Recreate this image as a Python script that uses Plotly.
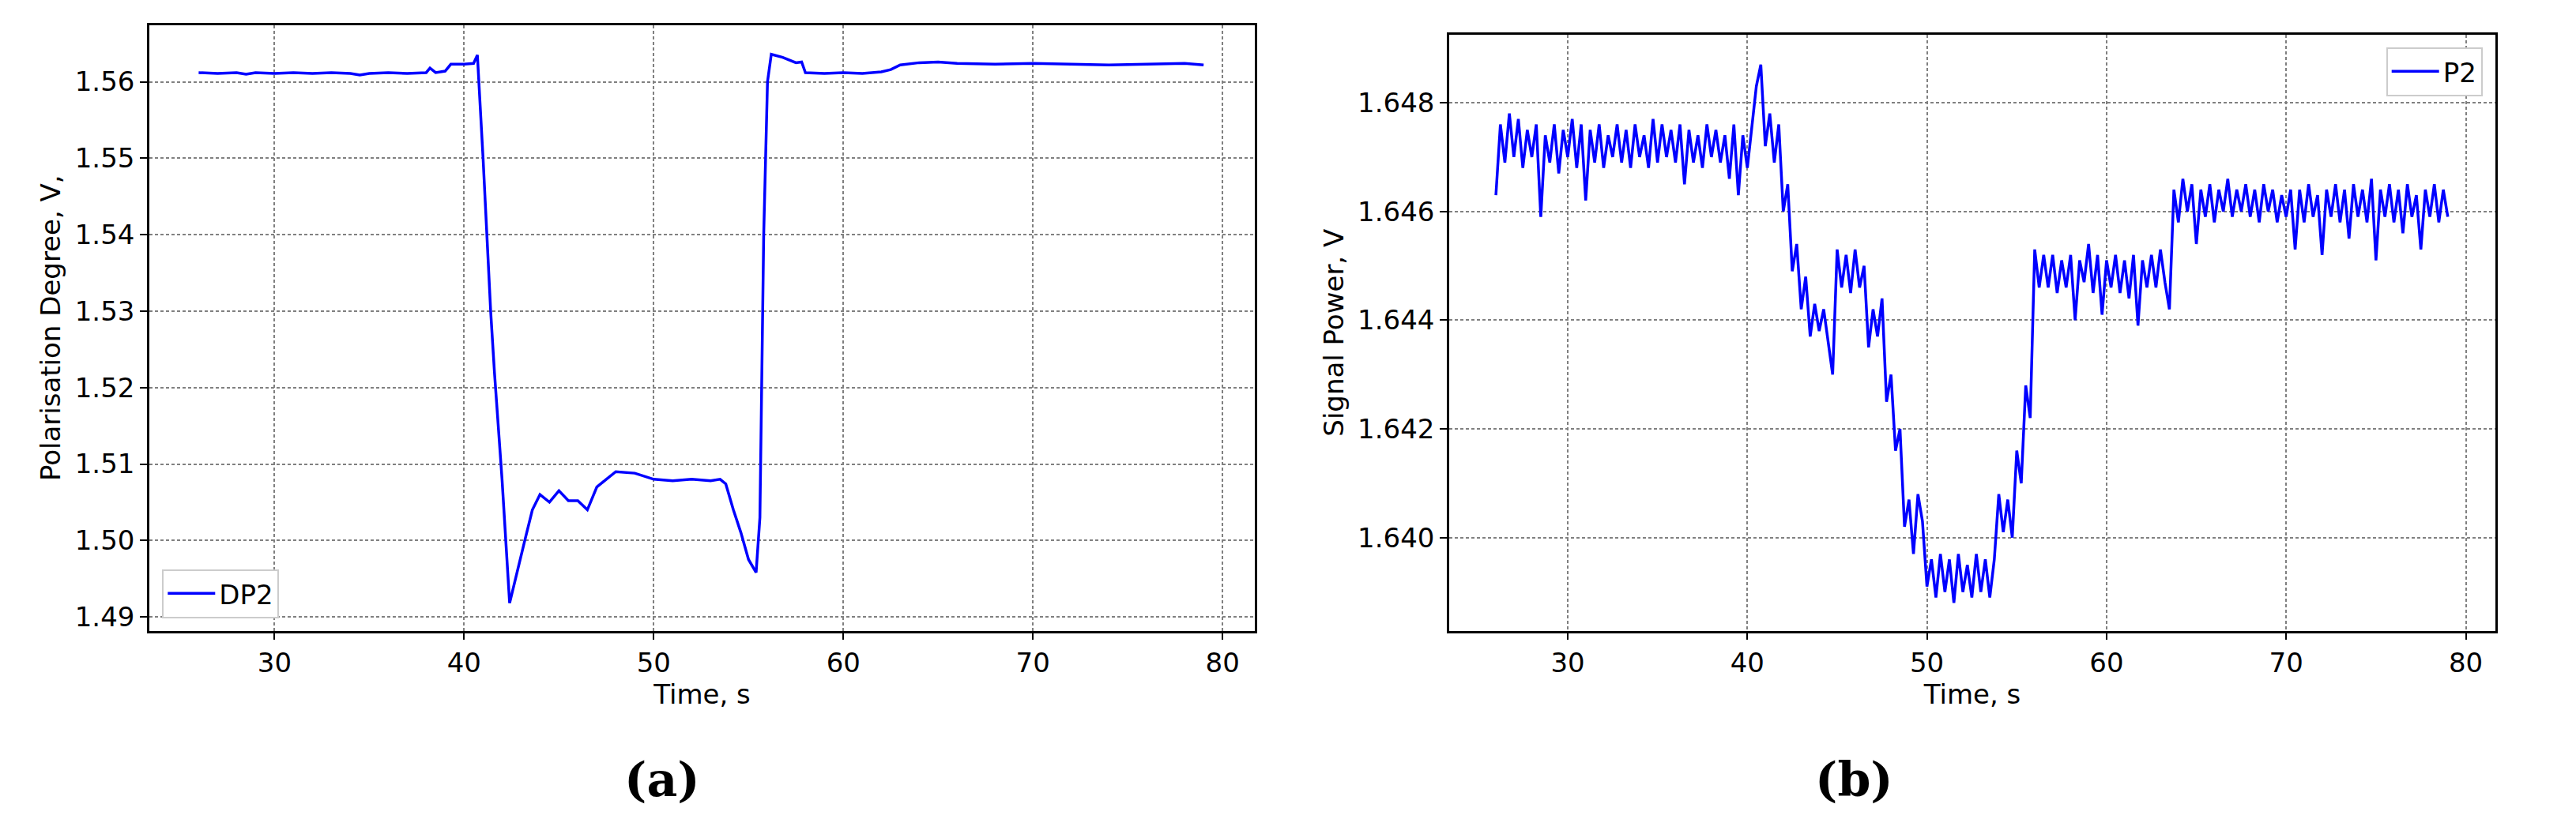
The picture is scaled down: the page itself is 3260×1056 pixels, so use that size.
import plotly.graph_objects as go

DP2_TIME = [26, 27, 28, 28.5, 29, 30, 31, 32, 33, 34, 34.5, 35, 36, 37, 38, 38.2, 38.5, 39, 39.3, 40, 40.5, 40.7,
            41, 41.2, 41.4, 41.6, 42, 42.4, 42.8, 43.2, 43.6, 44, 44.5, 45, 45.5, 46, 46.5, 47, 47.5, 48, 49, 50,
            51, 52, 53, 53.5, 53.8, 54.2, 54.6, 55, 55.4, 55.6, 55.8, 56, 56.2, 56.8, 57.5, 57.8, 58, 59, 60, 61,
            62, 62.5, 63, 64, 65, 66, 68, 70, 72, 74, 76, 78, 79]
DP2_VALUE = [1.5612, 1.5611, 1.5612, 1.5610, 1.5612, 1.5611, 1.5612, 1.5611, 1.5612, 1.5611, 1.5609, 1.5611, 1.5612, 1.5611,
             1.5612, 1.5618, 1.5612, 1.5614, 1.5623, 1.5623, 1.5624, 1.5635,
             1.5500, 1.5400, 1.5300, 1.5220, 1.5080, 1.4918, 1.4960, 1.5000, 1.5040, 1.5060, 1.5050, 1.5065, 1.5052,
             1.5052, 1.5040, 1.5070, 1.5080, 1.5090, 1.5088, 1.5080, 1.5078, 1.5080, 1.5078, 1.5080, 1.5074,
             1.5040, 1.5010, 1.4975, 1.4958, 1.5030, 1.5400, 1.5600, 1.5636, 1.5632, 1.5625, 1.5626, 1.5612,
             1.5611, 1.5612, 1.5611, 1.5613, 1.5616, 1.5622, 1.5625, 1.5626, 1.5624, 1.5623, 1.5624, 1.5623,
             1.5622, 1.5623, 1.5624, 1.5622]

P2_VALUE = [
    1.6463, 1.6476, 1.6469, 1.6478, 1.6470, 1.6477, 1.6468, 1.6475, 1.6470, 1.6476, 1.6459, 1.6474,
    1.6469, 1.6476, 1.6467, 1.6475, 1.6470, 1.6477, 1.6468, 1.6476, 1.6462, 1.6475, 1.6469, 1.6476,
    1.6468, 1.6474, 1.6470, 1.6476, 1.6469, 1.6475, 1.6468, 1.6476, 1.6470, 1.6474, 1.6468, 1.6477,
    1.6469, 1.6476, 1.6470, 1.6475, 1.6469, 1.6476, 1.6465, 1.6475, 1.6469, 1.6474, 1.6468, 1.6476,
    1.6470, 1.6475, 1.6469, 1.6474, 1.6466, 1.6476, 1.6463, 1.6474, 1.6468, 1.6475,
    1.6483, 1.6487, 1.6472, 1.6478, 1.6469, 1.6476, 1.6460, 1.6465, 1.6449, 1.6454, 1.6442, 1.6448,
    1.6437, 1.6443, 1.6438, 1.6442, 1.6436, 1.6430, 1.6453, 1.6446, 1.6452, 1.6445, 1.6453, 1.6446,
    1.6450, 1.6435, 1.6442, 1.6437, 1.6444, 1.6425, 1.6430, 1.6416, 1.6420, 1.6402, 1.6407, 1.6397,
    1.6408, 1.6403, 1.6391, 1.6396, 1.6389, 1.6397, 1.6390, 1.6396, 1.6388, 1.6397, 1.6390, 1.6395,
    1.6389, 1.6397, 1.6390, 1.6396, 1.6389, 1.6396, 1.6408, 1.6401, 1.6407, 1.6400, 1.6416, 1.6410,
    1.6428, 1.6422, 1.6453, 1.6446, 1.6452, 1.6446, 1.6452, 1.6445, 1.6451, 1.6446, 1.6452, 1.6440,
    1.6451, 1.6447, 1.6454, 1.6445, 1.6452, 1.6441, 1.6451, 1.6446, 1.6452, 1.6445, 1.6451, 1.6444,
    1.6452, 1.6439, 1.6451, 1.6446, 1.6452, 1.6446, 1.6453, 1.6447, 1.6442, 1.6464, 1.6458, 1.6466,
    1.6460, 1.6465, 1.6454, 1.6464, 1.6459, 1.6465, 1.6458, 1.6464, 1.6460, 1.6466, 1.6459, 1.6464,
    1.6460, 1.6465, 1.6459, 1.6464, 1.6458, 1.6465, 1.6460, 1.6464, 1.6458, 1.6463, 1.6459, 1.6464,
    1.6453, 1.6464, 1.6458, 1.6465, 1.6459, 1.6463, 1.6452, 1.6464, 1.6459, 1.6465, 1.6458, 1.6464,
    1.6455, 1.6465, 1.6459, 1.6464, 1.6458, 1.6466, 1.6451, 1.6464, 1.6459, 1.6465, 1.6458, 1.6464,
    1.6456, 1.6465, 1.6459, 1.6463, 1.6453, 1.6464, 1.6459, 1.6465, 1.6458, 1.6464, 1.6459]
P2_START, P2_STEP = 26.0, 0.25
P2_TIME = [P2_START + i * P2_STEP for i in range(len(P2_VALUE))]

X_TICKS = [30, 40, 50, 60, 70, 80]
DP2_TICKS = [1.49, 1.50, 1.51, 1.52, 1.53, 1.54, 1.55, 1.56]
P2_TICKS = [1.640, 1.642, 1.644, 1.646, 1.648]

W, H = 3260, 1056
fig = go.Figure()
fig.add_trace(go.Scatter(x=DP2_TIME, y=DP2_VALUE, mode="lines", name="DP2",
                         line=dict(color="#0000ff", width=3.5), xaxis="x", yaxis="y", legend="legend"))
fig.add_trace(go.Scatter(x=P2_TIME, y=P2_VALUE, mode="lines", name="P2",
                         line=dict(color="#0000ff", width=3.5), xaxis="x2", yaxis="y2", legend="legend2"))

L1, R1, B1, T1 = 181/W, 1580/W, 1-792/H, 1-24/H
L2, R2, B2, T2 = 1826/W, 3150/W, 1-792/H, 1-36/H
FS = 34
grid = dict(showgrid=True, gridcolor="#808080", griddash="4px,3px", gridwidth=1.5,
            showline=True, linecolor="black", linewidth=2.5, mirror=True,
            ticks="outside", ticklen=9, tickwidth=2, tickcolor="black",
            tickfont=dict(family="DejaVu Sans", size=FS, color="black"), zeroline=False)
tfont = dict(family="DejaVu Sans", size=FS, color="black")
lfont = dict(family="DejaVu Sans", size=FS, color="black")
fig.update_layout(
    width=W, height=H, paper_bgcolor="white", plot_bgcolor="white",
    margin=dict(l=0, r=0, t=0, b=0), showlegend=True,
    xaxis=dict(domain=[L1, R1], range=[23.4, 81.7], tickvals=X_TICKS, anchor="y",
               title=dict(text="Time, s", font=tfont, standoff=6), **grid),
    yaxis=dict(domain=[B1, T1], range=[1.4882, 1.5674], tickvals=DP2_TICKS, tickformat=".2f", anchor="x",
               title=dict(text="Polarisation Degree, V,", font=tfont, standoff=8), **grid),
    xaxis2=dict(domain=[L2, R2], range=[23.4, 81.65], tickvals=X_TICKS, anchor="y2",
                title=dict(text="Time, s", font=tfont, standoff=6), **grid),
    yaxis2=dict(domain=[B2, T2], range=[1.63829, 1.64925], tickvals=P2_TICKS, tickformat=".3f", anchor="x2",
                title=dict(text="Signal Power, V", font=tfont, standoff=8), **grid),
    legend=dict(x=L1 + 0.005, y=B1 + 0.015, xanchor="left", yanchor="bottom",
                bordercolor="#cccccc", borderwidth=2, bgcolor="white", font=lfont,
                itemwidth=60),
    legend2=dict(x=R2 - 0.005, y=T2 - 0.015, xanchor="right", yanchor="top",
                 bordercolor="#cccccc", borderwidth=2, bgcolor="white", font=lfont,
                 itemwidth=60),
    annotations=[
        dict(text="(a)", x=780/W, y=1-1018/H, xref="paper", yref="paper", showarrow=False,
             font=dict(family="DejaVu Serif", size=60, color="black", weight="bold")),
        dict(text="(b)", x=2390/W, y=1-1018/H, xref="paper", yref="paper", showarrow=False,
             font=dict(family="DejaVu Serif", size=60, color="black", weight="bold")),
    ],
)
fig.write_html("out.html")
